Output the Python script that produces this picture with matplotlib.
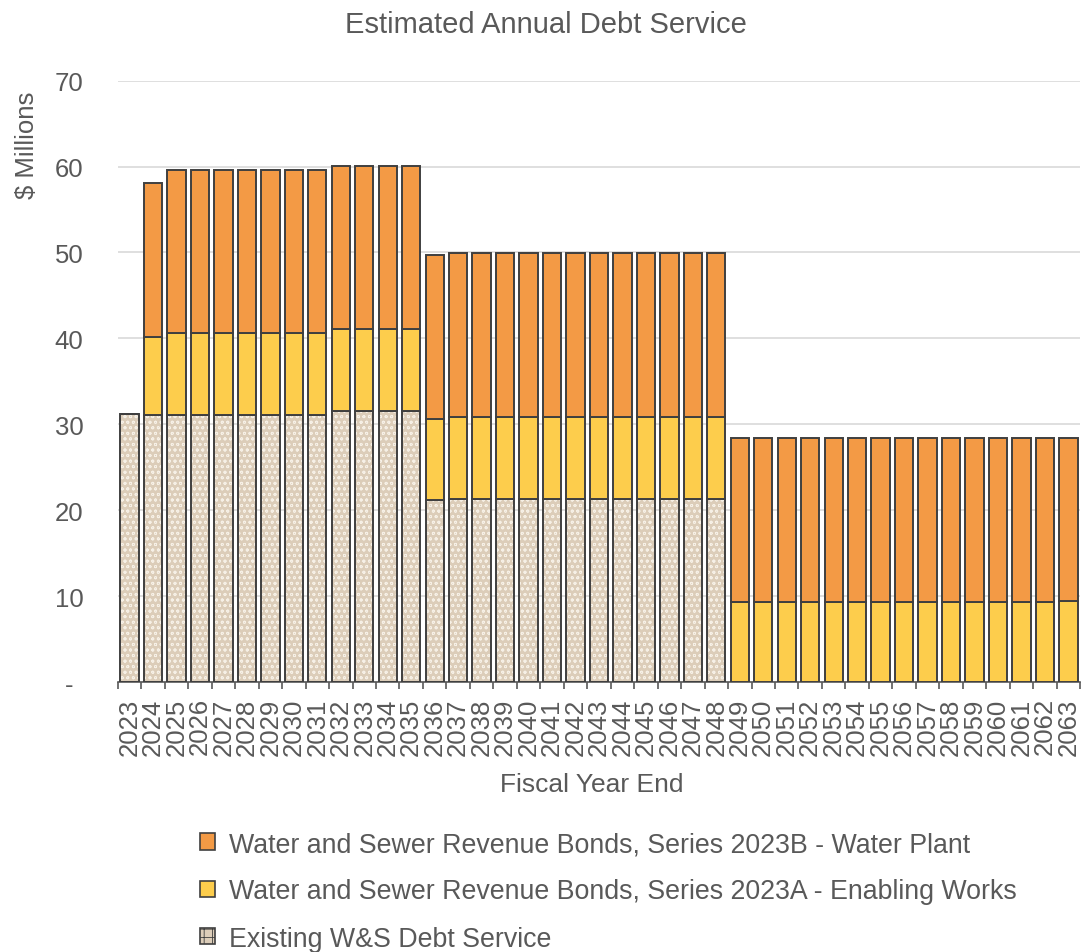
import matplotlib
matplotlib.use("Agg")
import matplotlib.pyplot as plt
import matplotlib.patches as mpatches
import numpy as np

plt.rcParams['font.family'] = ['Liberation Sans', 'DejaVu Sans']

years = [str(y) for y in range(2023, 2064)]

existing = [31.2] + [31.1] * 8 + [31.6] * 4 + [21.2] + [21.35] * 12 + [0.0] * 15
series_a = [0.0] + [9.1] + [9.55] * 7 + [9.5] * 4 + [9.45] + [9.55] * 12 + [9.33] * 14 + [9.45]
series_b = [0.0] + [17.9] + [18.95] * 7 + [19.0] * 4 + [19.05] + [19.0] * 12 + [19.12] * 14 + [19.0]

labels = [
    "Water and Sewer Revenue Bonds, Series 2023B - Water Plant",
    "Water and Sewer Revenue Bonds, Series 2023A - Enabling Works",
    "Existing W&S Debt Service",
]

c_b = "#f39a45"
c_a = "#fdcd4c"
c_ex = "#dccdb9"
edge = "#3f3f3f"
txt = "#595959"

fig = plt.figure(figsize=(10.91, 9.53), dpi=100)
ax = fig.add_axes([0.108, 0.2833, 0.882, 0.631])

x = np.arange(len(years))
w = 0.78
ex = np.array(existing)
a = np.array(series_a)
b = np.array(series_b)

plt.rcParams['hatch.color'] = 'white'
plt.rcParams['hatch.linewidth'] = 0.6
# existing debt: beige fill with light dotted texture, then an outline on top
ax.bar(x, ex, w, color=c_ex, hatch='ooo', edgecolor='#f6f0e6', linewidth=0, zorder=2)
m = ex > 0
ax.bar(x[m], ex[m], w, fill=False, edgecolor=edge, linewidth=1.4, zorder=3)
ax.bar(x, a, w, bottom=ex, color=c_a, edgecolor=edge, linewidth=1.4, zorder=3)
ax.bar(x, b, w, bottom=ex + a, color=c_b, edgecolor=edge, linewidth=1.4, zorder=3)

ax.set_xlim(-0.5, len(years) - 0.5)
ax.set_ylim(0, 70)
ax.set_yticks(range(0, 71, 10))
ax.set_yticklabels(["-"] + [str(v) for v in range(10, 71, 10)])
ax.grid(axis='y', color='#d9d9d9', linewidth=1.2, zorder=0)
ax.set_axisbelow(True)

ax.set_xticks(x)
ax.set_xticklabels(years, rotation=90, fontsize=18.5, color=txt)
ax.set_xticks(np.arange(-0.5, len(years)), minor=True)
ax.tick_params(axis='x', which='major', length=0, pad=11)
ax.tick_params(axis='x', which='minor', length=5, color='#595959', width=1.2)
ax.tick_params(axis='y', length=0, labelsize=18.5, labelcolor=txt, pad=35)
for lab in ax.get_yticklabels():
    lab.set_horizontalalignment('center')

for s in ['top', 'right', 'left']:
    ax.spines[s].set_visible(False)
ax.spines['bottom'].set_color('#595959')
ax.spines['bottom'].set_linewidth(1.2)

fig.text(0.50, 1 - 25 / 953, "Estimated Annual Debt Service", ha='center', va='center',
         fontsize=21, color=txt)
fig.text(27.5 / 1091, 1 - 145 / 953, "$ Millions", rotation=90, ha='center', va='center',
         fontsize=18.5, color=txt)
fig.text(592 / 1091, 1 - 785 / 953, "Fiscal Year End", ha='center', va='center',
         fontsize=19, color=txt)

handles = [
    mpatches.Patch(facecolor=c_b, edgecolor=edge, linewidth=1.2),
    mpatches.Patch(facecolor=c_a, edgecolor=edge, linewidth=1.2),
    mpatches.Patch(facecolor=c_ex, edgecolor=edge, linewidth=1.2, hatch='++'),
]
leg = fig.legend(handles, labels, loc='upper left', bbox_to_anchor=(200 / 1091, 1 - 832 / 953),
                 frameon=False, fontsize=19.3, labelcolor=txt, handlelength=0.55,
                 handleheight=0.55, handletextpad=0.55, labelspacing=0.8,
                 borderaxespad=0, borderpad=0)

fig.savefig("out.png", dpi=100)
